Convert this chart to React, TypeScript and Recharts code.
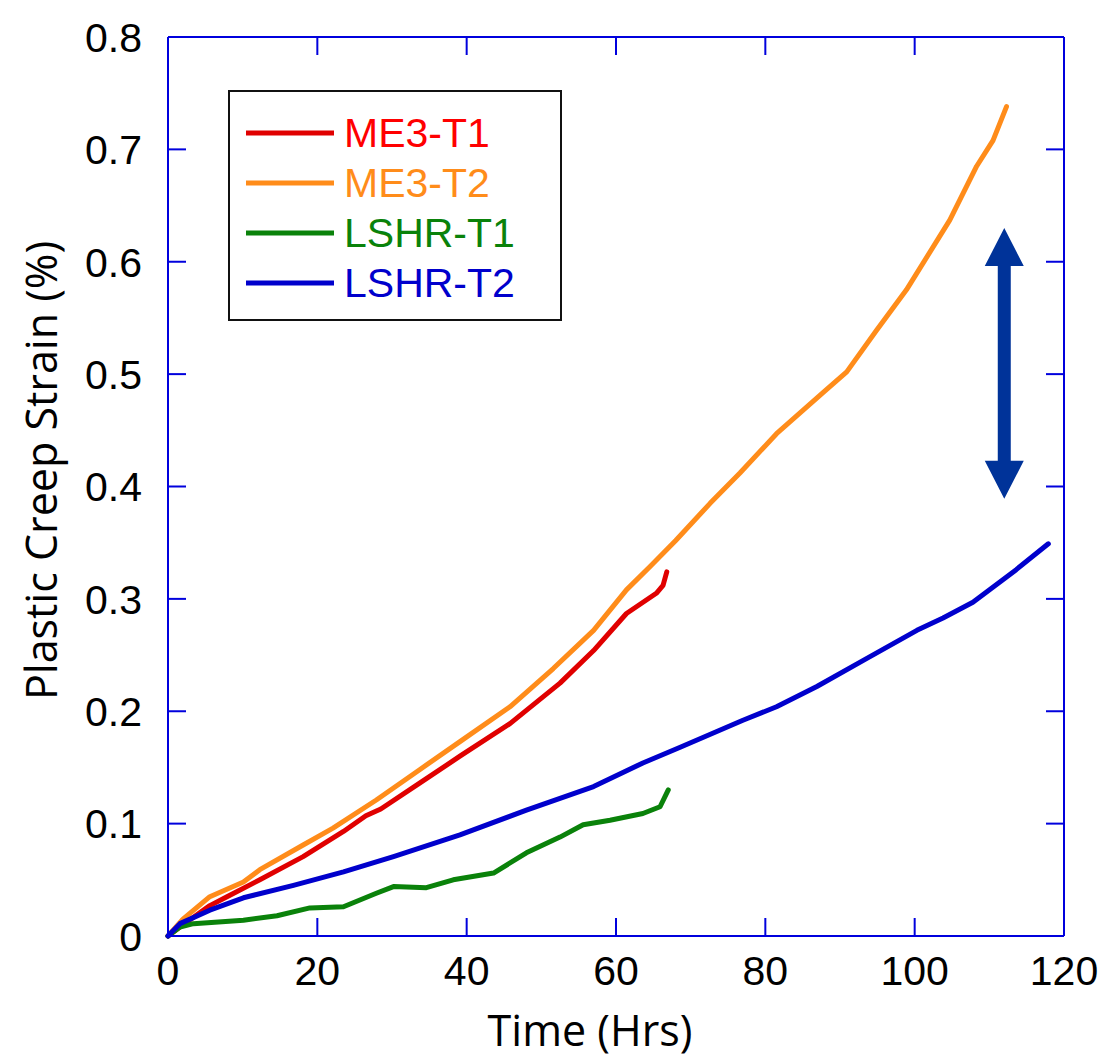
import React from "react";
import { LineChart, Line, XAxis, YAxis, Legend, ReferenceLine, Label } from "recharts";

// ---- data ----
const me3t1Time = [0, 2, 5.6, 7.9, 12.3, 18.1, 23.5, 26.5, 28.5, 33.7, 39.1, 45.8, 52.5, 57.0, 61.4, 65.4, 66.3, 66.8];
const me3t1Strain = [0, 0.01, 0.027, 0.035, 0.05, 0.0706, 0.093, 0.107, 0.113, 0.136, 0.16, 0.189, 0.225, 0.254, 0.287, 0.305, 0.312, 0.324];

const me3t2Time = [0, 2, 5.6, 10.1, 12.3, 18.1, 22.1, 27.9, 33.7, 39.1, 45.8, 51.6, 57.0, 61.4, 64.6, 68, 72.6, 76.6, 81.5, 87.8, 90.9, 94.9, 98.9, 104.7, 108.3, 110.5, 112.3];
const me3t2Strain = [0, 0.015, 0.035, 0.048, 0.059, 0.081, 0.096, 0.121, 0.148, 0.173, 0.204, 0.238, 0.272, 0.308, 0.329, 0.352, 0.385, 0.412, 0.447, 0.484, 0.502, 0.539, 0.575, 0.637, 0.685, 0.708, 0.738];

const lshrt1Time = [0, 1.6, 3.4, 10.1, 14.6, 19.0, 23.5, 27.9, 30.2, 34.6, 38.2, 43.6, 48.0, 52.5, 55.6, 59.2, 63.6, 65.9, 67.0];
const lshrt1Strain = [0, 0.008, 0.011, 0.014, 0.018, 0.025, 0.026, 0.038, 0.044, 0.043, 0.05, 0.056, 0.074, 0.088, 0.099, 0.103, 0.109, 0.115, 0.13];

const lshrt2Time = [0, 1.6, 5.6, 10.1, 16.8, 23.5, 30.2, 39.1, 48.0, 57.0, 63.6, 68.6, 77.0, 81.5, 86.9, 93.6, 100.3, 103.8, 107.8, 113.6, 117.9];
const lshrt2Strain = [0, 0.011, 0.023, 0.034, 0.045, 0.057, 0.0706, 0.09, 0.112, 0.133, 0.154, 0.168, 0.192, 0.204, 0.222, 0.247, 0.272, 0.283, 0.297, 0.326, 0.349];

const xTicks = [0, 20, 40, 60, 80, 100, 120];
const yTicks = [0, 0.1, 0.2, 0.3, 0.4, 0.5, 0.6, 0.7, 0.8];

const seriesNames = ["ME3-T1", "ME3-T2", "LSHR-T1", "LSHR-T2"];
const seriesColors = ["#E00000", "#FF8C1A", "#0A820A", "#0000CC"];
const legendTextColors = ["#FF0000", "#FF8C1A", "#0A820A", "#0000CC"];

// arrow (data units)
const arrowSegment = [
  { x: 112, y: 0.389 },
  { x: 112, y: 0.63 },
];

const toRows = (ts: number[], vs: number[]) => ts.map((t, i) => ({ t, v: vs[i] }));
const seriesData = [
  toRows(me3t1Time, me3t1Strain),
  toRows(me3t2Time, me3t2Strain),
  toRows(lshrt1Time, lshrt1Strain),
  toRows(lshrt2Time, lshrt2Strain),
];

const AXIS = "#0000DD";
const TICK_FONT = "'Liberation Sans', Arial, sans-serif";
const TITLE_FONT = "'Open Sans', 'Noto Sans', sans-serif";
const TICK_LEN = 18;

const BottomTick = (p: any) => (
  <text x={p.x} y={p.y + 49} textAnchor="middle" fontFamily={TICK_FONT} fontSize={41} fill="#000">
    {p.payload.value}
  </text>
);
const LeftTick = (p: any) => (
  <text x={p.x - 26} y={p.y} dy="0.36em" textAnchor="end" fontFamily={TICK_FONT} fontSize={41} fill="#000">
    {p.payload.value === 0 ? "0" : Number(p.payload.value).toFixed(1)}
  </text>
);

// inward tick marks on both ends of a reference line spanning the plot
const HTickMarks = (p: any) => (
  <g>
    <line x1={p.x1} y1={p.y1} x2={p.x1 + TICK_LEN} y2={p.y1} stroke={AXIS} strokeWidth={2} />
    <line x1={p.x2} y1={p.y2} x2={p.x2 - TICK_LEN} y2={p.y2} stroke={AXIS} strokeWidth={2} />
  </g>
);
const VTickMarks = (p: any) => {
  const top = Math.min(p.y1, p.y2);
  const bot = Math.max(p.y1, p.y2);
  return (
    <g>
      <line x1={p.x1} y1={bot} x2={p.x1} y2={bot - TICK_LEN} stroke={AXIS} strokeWidth={2} />
      <line x1={p.x1} y1={top} x2={p.x1} y2={top + TICK_LEN} stroke={AXIS} strokeWidth={2} />
    </g>
  );
};

const LegendBox = () => (
  <div
    style={{
      width: 334,
      height: 231,
      boxSizing: "border-box",
      border: "2px solid #111",
      background: "#fff",
      position: "relative",
    }}
  >
    {seriesNames.map((n, i) => (
      <div
        key={n}
        style={{
          position: "absolute",
          left: 16,
          top: 16 + i * 50,
          height: 50,
          display: "flex",
          alignItems: "center",
        }}
      >
        <svg width={90} height={10} style={{ display: "block" }}>
          <line x1={0} y1={5} x2={88} y2={5} stroke={seriesColors[i]} strokeWidth={5} />
        </svg>
        <span
          style={{
            marginLeft: 8,
            fontFamily: TICK_FONT,
            fontSize: 41,
            lineHeight: "50px",
            color: legendTextColors[i],
            whiteSpace: "nowrap",
          }}
        >
          {n}
        </span>
      </div>
    ))}
  </div>
);

const DoubleArrow = (p: any) => {
  const x = p.x1;
  const top = Math.min(p.y1, p.y2);
  const bot = Math.max(p.y1, p.y2);
  const hw = 19.5;
  const sw = 6.5;
  const hl = 38;
  const pts = [
    [x, top],
    [x + hw, top + hl],
    [x + sw, top + hl],
    [x + sw, bot - hl],
    [x + hw, bot - hl],
    [x, bot],
    [x - hw, bot - hl],
    [x - sw, bot - hl],
    [x - sw, top + hl],
    [x - hw, top + hl],
  ]
    .map((q) => q.join(","))
    .join(" ");
  return <polygon points={pts} fill="#003399" />;
};

const axisLineStyle = { stroke: AXIS, strokeWidth: 2 };

export default function App() {
  return (
    <div style={{ position: "absolute", left: 0, top: 0, width: 1104, height: 1058, background: "#fff" }}>
      <LineChart width={1104} height={1058} margin={{ top: 33, right: 36, bottom: 0, left: 0 }}>
        <XAxis
          dataKey="t"
          type="number"
          domain={[0, 120]}
          ticks={xTicks}
          interval={0}
          height={122}
          axisLine={axisLineStyle}
          tickLine={false}
          tickSize={0}
          tickMargin={0}
          tick={<BottomTick />}
        >
          <Label
            content={(props: any) => {
              const vb = props.viewBox;
              return (
                <text
                  x={vb.x + vb.width / 2 - 26}
                  y={vb.y + 110}
                  textAnchor="middle"
                  fontFamily={TITLE_FONT}
                  fontSize={43}
                  fill="#000"
                >
                  Time (Hrs)
                </text>
              );
            }}
          />
        </XAxis>
        <XAxis
          xAxisId="top"
          orientation="top"
          dataKey="t"
          type="number"
          domain={[0, 120]}
          ticks={xTicks}
          height={4}
          axisLine={axisLineStyle}
          tickLine={false}
          tick={false}
        />
        <YAxis
          type="number"
          domain={[0, 0.8]}
          ticks={yTicks}
          interval={0}
          width={168}
          axisLine={axisLineStyle}
          tickLine={false}
          tickSize={0}
          tickMargin={0}
          tick={<LeftTick />}
        >
          <Label
            content={(props: any) => {
              const vb = props.viewBox;
              const cx = 40;
              const cy = vb.y + vb.height / 2 - 16;
              return (
                <text
                  x={cx}
                  y={cy}
                  transform={`rotate(-90 ${cx} ${cy})`}
                  textAnchor="middle"
                  dominantBaseline="central"
                  fontFamily={TITLE_FONT}
                  fontSize={43}
                  fill="#000"
                >
                  Plastic Creep Strain (%)
                </text>
              );
            }}
          />
        </YAxis>
        <YAxis
          yAxisId="right"
          orientation="right"
          type="number"
          domain={[0, 0.8]}
          ticks={yTicks}
          width={4}
          axisLine={axisLineStyle}
          tickLine={false}
          tick={false}
        />
        {yTicks.map((v) => (
          <ReferenceLine key={`yt${v}`} y={v} shape={HTickMarks} ifOverflow="visible" />
        ))}
        {xTicks.map((t) => (
          <ReferenceLine key={`xt${t}`} x={t} shape={VTickMarks} ifOverflow="visible" />
        ))}
        {seriesNames.map((n, i) => (
          <Line
            key={n}
            name={n}
            data={seriesData[i]}
            dataKey="v"
            type="linear"
            stroke={seriesColors[i]}
            strokeWidth={5}
            strokeLinejoin="round"
            strokeLinecap="round"
            dot={false}
            activeDot={false}
            isAnimationActive={false}
          />
        ))}
        <ReferenceLine segment={arrowSegment} shape={DoubleArrow} ifOverflow="visible" />
        <Legend
          layout="vertical"
          align="center"
          verticalAlign="middle"
          content={<LegendBox />}
          wrapperStyle={{ left: 228, top: 90, width: 334, height: 231 }}
        />
      </LineChart>
    </div>
  );
}
